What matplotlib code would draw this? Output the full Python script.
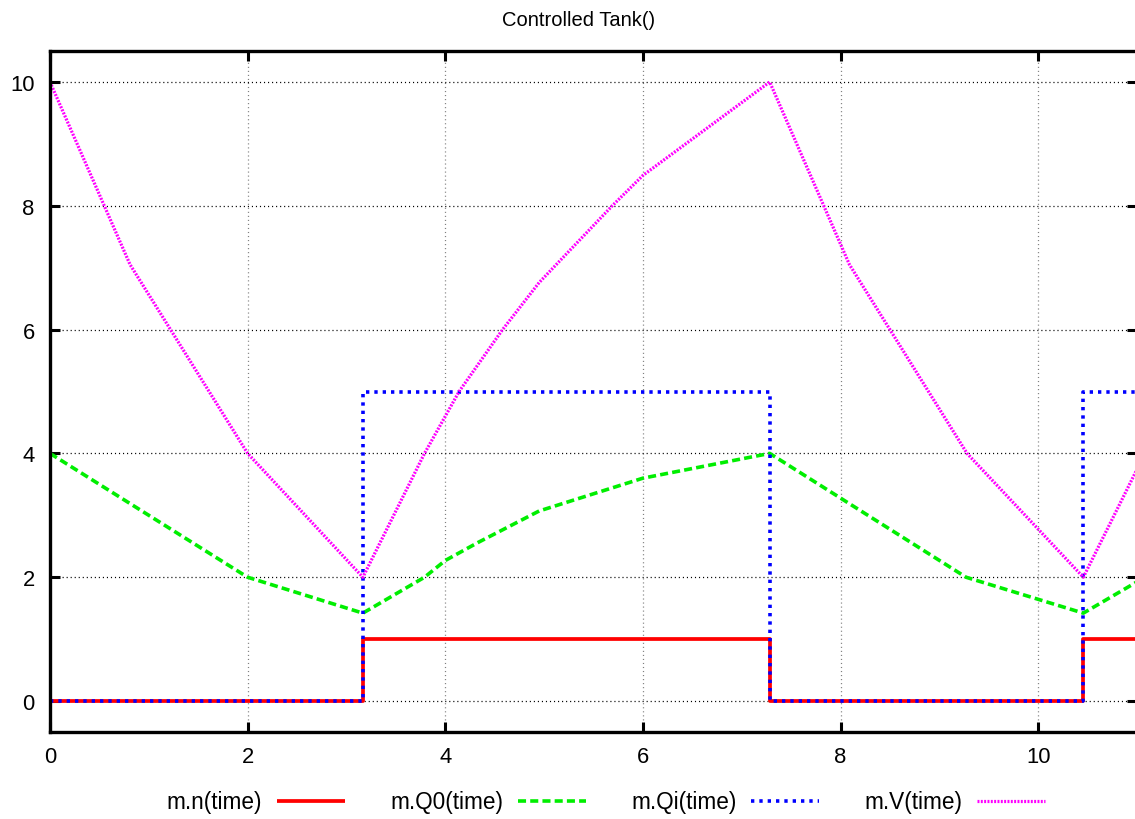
import matplotlib
matplotlib.use("Agg")
import matplotlib.pyplot as plt

plt.rcParams['font.family'] = ['Liberation Sans', 'DejaVu Sans']
plt.rcParams['lines.scale_dashes'] = False

# ---- data ----
title = "Controlled Tank()"
labels = ["m.n(time)", "m.Q0(time)", "m.Qi(time)", "m.V(time)"]

# switching (step) signals
step_t = [0.0, 3.166, 7.283, 10.457, 11.2]
n_vals = [0, 1, 0, 1, 1]
qi_vals = [0, 5, 0, 5, 5]

# outflow Q0
q0_t = [0.0, 2.0, 3.166, 3.79, 4.0, 4.33, 4.95, 6.0, 7.283, 9.27, 10.457, 11.08]
q0_v = [4.0, 2.0, 1.42, 2.0, 2.27, 2.56, 3.07, 3.6, 4.0, 2.0, 1.42, 2.0]

# volume V
v_t = [0.0, 0.81, 2.0, 3.166, 3.79, 4.14, 4.58, 4.95, 5.69, 6.0, 7.283,
       8.09, 9.28, 10.457, 11.08]
v_v = [10.0, 7.05, 4.0, 2.0, 4.0, 5.0, 6.0, 6.76, 8.0, 8.49, 10.0,
       7.05, 4.0, 2.0, 4.0]

x_ticks = [0, 2, 4, 6, 8, 10]
y_ticks = [0, 2, 4, 6, 8, 10]

# ---- figure ----
W, H = 1135, 820
fig = plt.figure(figsize=(W / 100, H / 100), dpi=100)
ax = fig.add_axes([50 / W, 1 - 733 / H, (1137 - 50) / W, (733 - 52) / H])

h_n, = ax.plot(step_t, n_vals, drawstyle='steps-post', color='#ff0000',
               lw=2.7, solid_capstyle='butt', label=labels[0])
h_q0, = ax.plot(q0_t, q0_v, color='#00ee00', lw=2.6,
                linestyle=(0, (5.8, 3.0)), dash_capstyle='butt', label=labels[1])
h_qi, = ax.plot(step_t, qi_vals, drawstyle='steps-post', color='#0000ff',
                lw=2.6, linestyle=(0, (2.4, 3.6)), dash_capstyle='butt',
                label=labels[2])
h_v, = ax.plot(v_t, v_v, color='#ff00ff', lw=2.3,
               linestyle=(0, (1.4, 1.0)), dash_capstyle='butt', label=labels[3])

ax.set_xlim(0, 11)
ax.set_ylim(-0.5, 10.5)
ax.set_xticks(x_ticks)
ax.set_yticks(y_ticks)

ax.xaxis.grid(True, color='#808080', lw=0.9, linestyle=(0, (0.8, 2.1)))
ax.yaxis.grid(True, color='#000000', lw=0.9, linestyle=(0, (0.8, 2.1)))
ax.set_axisbelow(True)

for s in ax.spines.values():
    s.set_linewidth(2.4)
    s.set_color('black')

ax.tick_params(axis='both', which='major', direction='in', length=7.5,
               width=2.2, top=True, right=True, labelsize=15.8, colors='black')
ax.tick_params(axis='x', pad=10)
ax.tick_params(axis='y', pad=11)

fig.text(579 / W, 1 - 20 / H, title, ha='center', va='center', fontsize=14.5)

fig.legend([h_n, h_q0, h_qi, h_v], labels, loc='center',
           bbox_to_anchor=(606 / W, 1 - 803 / H), ncol=4, markerfirst=False,
           frameon=False, fontsize=16.3, handlelength=3.0, handletextpad=0.65,
           columnspacing=2.0)

fig.savefig("out.png", dpi=100)
